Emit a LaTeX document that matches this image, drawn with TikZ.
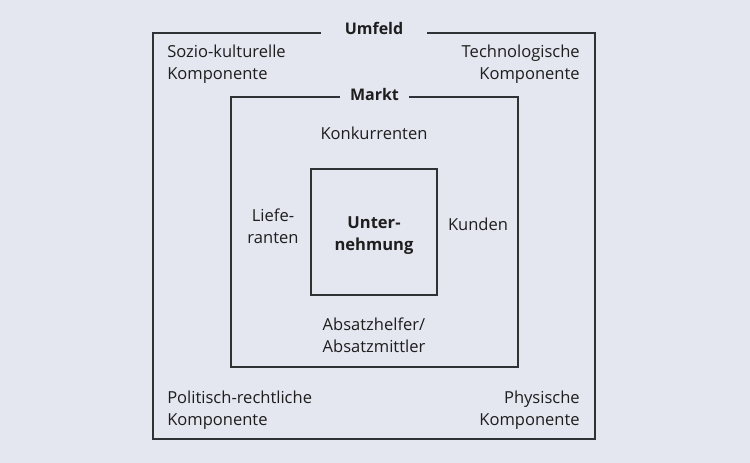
\documentclass[tikz,border=0pt]{standalone}
\usepackage{fontspec}
\setmainfont{Open Sans}
\definecolor{bg}{HTML}{E4E6F0}
\definecolor{ln}{HTML}{303236}
\definecolor{tx}{HTML}{1E1E1E}
\begin{document}
\begin{tikzpicture}[x=0.75pt,y=-0.75pt,
  lbl/.style={text=tx,font=\fontsize{12.4}{16.5}\selectfont,inner sep=0pt,align=center},
  ttl/.style={lbl,font=\fontsize{12}{16.5}\selectfont\bfseries,fill=bg,inner ysep=3pt}]
\fill[bg] (0,0) rectangle (750,463);
\useasboundingbox (0,0) rectangle (750,463);
\node[draw=ln,line width=1.1pt,minimum width=442*0.75pt,minimum height=406*0.75pt,inner sep=0pt] (umfeld) at (374,236) {};
\node[draw=ln,line width=1.1pt,minimum width=287*0.75pt,minimum height=270*0.75pt,inner sep=0pt] (markt) at (374.5,232) {};
\node[draw=ln,line width=1.1pt,minimum width=126*0.75pt,minimum height=126*0.75pt,inner sep=0pt] (unt) at (374,232) {};
\node[ttl,inner xsep=18pt,anchor=base] (tu) at ([yshift=-1.6pt]umfeld.north) {Umfeld};
\node[ttl,inner xsep=7.6pt,anchor=base] (tm) at ([yshift=-3.2pt]markt.north) {Markt};
\node[lbl,font=\fontsize{12.4}{16.5}\selectfont\bfseries] (tunt) at (374,236) {Unter-\\nehmung};
\node[lbl,align=left,anchor=west] (sozio) at (167,64) {Sozio-kulturelle\\Komponente};
\node[lbl,align=right,anchor=east] (tech) at (580,64) {Technologische\\Komponente};
\node[lbl,align=left,anchor=west] (polit) at (167,410) {Politisch-rechtliche\\Komponente};
\node[lbl,align=right,anchor=east] (phys) at (580,410) {Physische\\Komponente};
\node[lbl] (konk) at (374,133) {Konkurrenten};
\node[lbl] (lief) at (273,226) {Liefe-\\ranten};
\node[lbl] (kund) at (478,224) {Kunden};
\node[lbl] (absatz) at (374,335) {Absatzhelfer/\\Absatzmittler};
\end{tikzpicture}
\end{document}
